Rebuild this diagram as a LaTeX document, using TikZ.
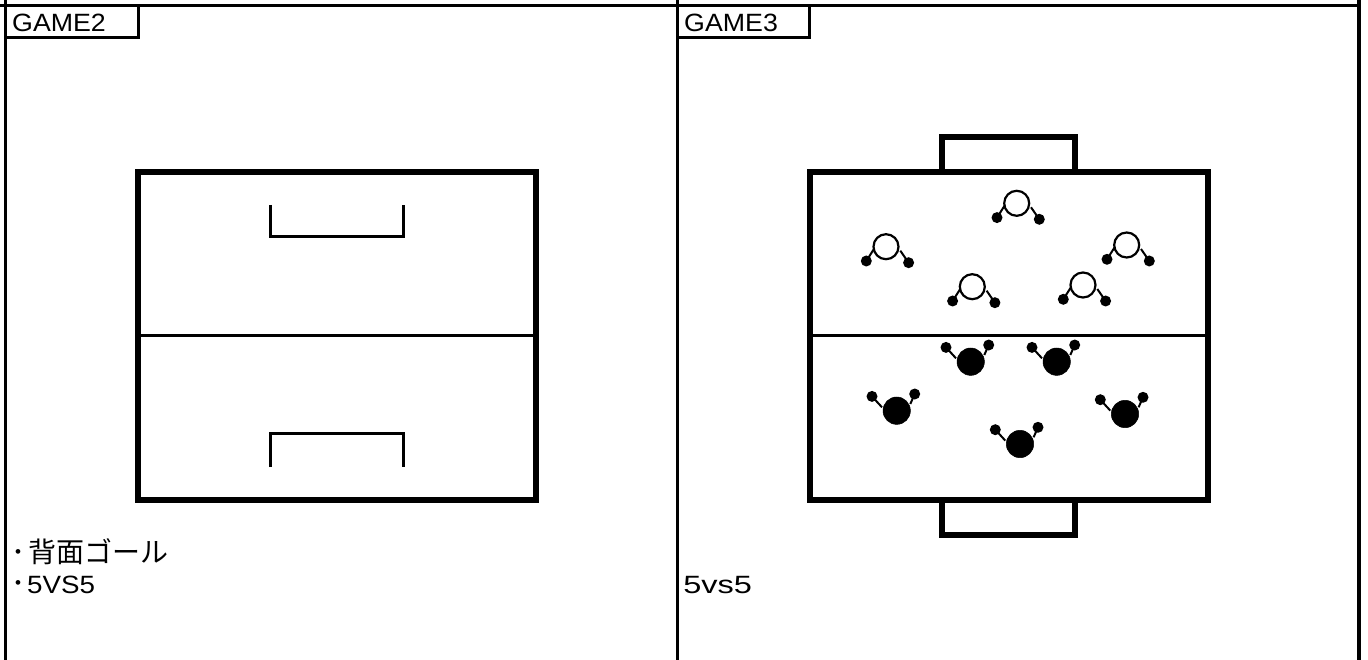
\documentclass[tikz,border=0pt]{standalone}
\usepackage{fontspec}
\setmainfont{Liberation Sans}
\newfontfamily\jpfont{Noto Sans CJK JP}
\tikzset{
	frameline/.style={line width=3.3pt, line cap=rect},
	fieldline/.style={line width=6pt, line join=miter},
	thinline/.style={line width=3pt, line join=miter},
	armline/.style={line width=2pt},
	gametext/.style={anchor=base west, inner sep=0pt, transform shape, font=\fontsize{25}{30}\selectfont},
	whitehead/.style={draw, line width=2.2pt, fill=white},
	blackhead/.style={draw, line width=0.5pt, fill=black}
}
\begin{document}
\begin{tikzpicture}[x=1pt, y=-1pt]
	\useasboundingbox (0,0) rectangle (1368,660);

	\draw[frameline] (0,5.5) -- (1359,5.5);
	\draw[line width=3.3pt] (5.5,0) --++ (0,660);
	\draw[line width=3.3pt] (677.5,0) --++ (0,660);
	\draw[line width=3.3pt] (1359,0) --++ (0,660);
	\draw[thinline] (5.5,38) -- (138,38) -- (138,5.5);
	\draw[thinline] (677.5,38) -- (809.5,38) -- (809.5,5.5);
	\node[gametext, xscale=1.07] (gametwo) at (12,32) {GAME2};
	\node[gametext, xscale=1.07] (gamethree) at (684,32) {GAME3};

	\draw[fieldline] (138,172) rectangle (536,500);
	\draw[thinline] (138,335) --++ (398,0);
	\draw[thinline] (270.5,205) --++ (0,32) --++ (133,0) --++ (0,-32);
	\draw[thinline] (270.5,467) --++ (0,-34) --++ (133,0) --++ (0,34);
	\node[gametext] (goaltext) at (11,562) {\jpfont\fontsize{28}{30}\selectfont ･\hspace{3pt}背面ゴール};
	\node[gametext] (dottwo) at (11,593) {\jpfont\fontsize{28}{30}\selectfont ･};
	\node[gametext, xscale=1.11] (versustwo) at (27,593) {5VS5};

	\draw[fieldline] (810,172) rectangle (1208,500);
	\draw[thinline] (810,335) --++ (398,0);
	\draw[fieldline] (942,172) --++ (0,-35) --++ (133,0) --++ (0,35);
	\draw[fieldline] (942,500) --++ (0,35) --++ (133,0) --++ (0,-35);
	\foreach \px/\py in {1016.7/203.3, 886/246.7, 1126.7/245, 972.3/286.7, 1083/285} {
		\draw[armline] (\px-19.7,\py+14.3) -- (\px-11.7,\py+1.7);
		\draw[armline] (\px+22.6,\py+16) -- (\px+14.3,\py+4);
		\fill (\px-19.7,\py+14.3) circle (5.5);
		\fill (\px+22.6,\py+16) circle (5.5);
		\path[whitehead] (\px,\py) circle (12.5);
	}
	\foreach \px/\py in {970.7/361.7, 1056.7/361.7, 896.7/410.7, 1125/414, 1020/444} {
		\draw[armline] (\px-24.7,\py-14.3) -- (\px-14.7,\py-3.4);
		\draw[armline] (\px+18,\py-16.7) -- (\px+13.6,\py-6.7);
		\fill (\px-24.7,\py-14.3) circle (5.5);
		\fill (\px+18,\py-16.7) circle (5.5);
		\path[blackhead] (\px,\py) circle (13.7);
	}
	\node[gametext, xscale=1.3] (versusthree) at (683,593) {5vs5};
\end{tikzpicture}
\end{document}
